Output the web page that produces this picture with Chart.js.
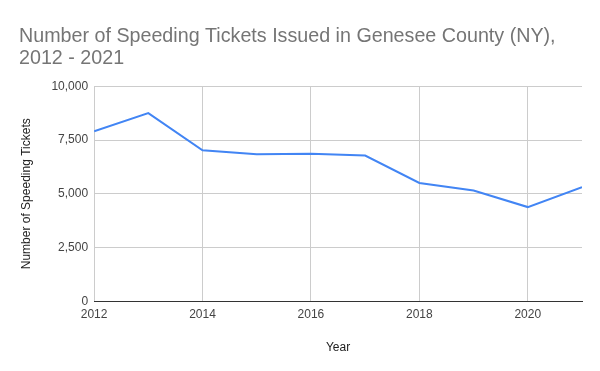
<!DOCTYPE html>
<html>
<head>
<meta charset="utf-8">
<script src="https://cdn.jsdelivr.net/npm/chart.js@4/dist/chart.umd.min.js"></script>
<style>
  html, body { margin: 0; padding: 0; background: #fff; }
  #wrap { width: 600px; height: 371px; }
</style>
</head>
<body>
<div id="wrap"><canvas id="chart"></canvas></div>
<script>
// Daten
const jahre = [2012, 2013, 2014, 2015, 2016, 2017, 2018, 2019, 2020, 2021];
const strafzettel = [7910, 8750, 7025, 6840, 6865, 6780, 5500, 5155, 4380, 5300];
const titelZeilen = ["Number of Speeding Tickets Issued in Genesee County (NY),", "2012 - 2021"];

const schrift = "Arial, 'Liberation Sans', sans-serif";
Chart.defaults.font.family = schrift;

const punkte = jahre.map((j, i) => ({ x: j, y: strafzettel[i] }));

new Chart(document.getElementById("chart").getContext("2d"), {
  type: "line",
  data: {
    datasets: [{
      label: "Number of Speeding Tickets",
      data: punkte,
      borderColor: "#4285F4",
      borderWidth: 2,
      pointRadius: 0,
      tension: 0,
      fill: false
    }]
  },
  options: {
    responsive: true,
    maintainAspectRatio: false,
    animation: false,
    layout: { padding: { left: 19, right: 18, top: 25, bottom: 16 } },
    plugins: {
      legend: { display: false },
      tooltip: { enabled: false },
      title: {
        display: true,
        text: titelZeilen,
        align: "start",
        color: "#757575",
        font: { size: 19.7, weight: "normal", lineHeight: 1.15 },
        padding: { top: 0, bottom: 16 }
      }
    },
    scales: {
      x: {
        type: "linear",
        min: 2012,
        max: 2021,
        ticks: {
          stepSize: 2,
          includeBounds: false,
          color: "#444",
          font: { size: 12 },
          padding: 6,
          maxRotation: 0,
          callback: v => String(v)
        },
        grid: { color: "#cccccc", drawTicks: false },
        border: { display: true, color: "#333333", width: 1 },
        title: {
          display: true,
          text: "Year",
          color: "#222",
          font: { size: 12 },
          padding: { top: 13, bottom: 0 }
        }
      },
      y: {
        min: 0,
        max: 10000,
        ticks: {
          stepSize: 2500,
          color: "#444",
          font: { size: 12 },
          padding: 6,
          callback: v => v.toLocaleString("en-US")
        },
        grid: { color: "#cccccc", drawTicks: false },
        border: { display: false },
        title: {
          display: true,
          text: "Number of Speeding Tickets",
          color: "#222",
          font: { size: 12 },
          padding: { top: 0, bottom: 12 }
        }
      }
    }
  }
});
</script>
</body>
</html>
